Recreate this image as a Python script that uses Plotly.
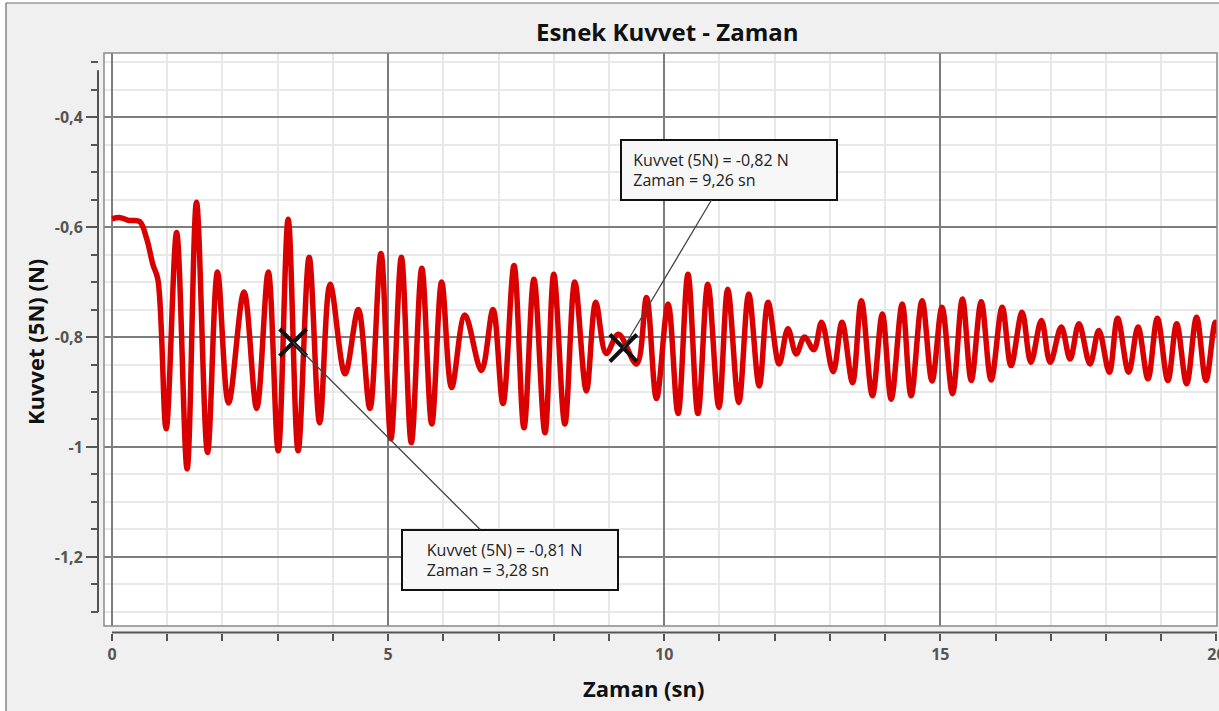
import plotly.graph_objects as go

time_s = [0.00, 0.15, 0.30, 0.50, 0.63, 0.74, 0.83,
          0.98, 1.17, 1.36, 1.53, 1.73, 1.91, 2.11, 2.39, 2.62, 2.83,
          3.01, 3.19, 3.37, 3.57, 3.76, 3.95, 4.22, 4.46, 4.67, 4.87,
          5.05, 5.24, 5.42, 5.61, 5.79, 5.97, 6.15, 6.39, 6.69, 6.90,
          7.08, 7.28, 7.46, 7.64, 7.84, 8.00, 8.20, 8.38, 8.59, 8.76,
          8.95, 9.17, 9.50, 9.68, 9.86, 10.07, 10.25, 10.43, 10.61, 10.79,
          10.99, 11.15, 11.35, 11.53, 11.72, 11.88, 12.08, 12.24, 12.39, 12.54,
          12.71, 12.85, 13.06, 13.22, 13.41, 13.57, 13.77, 13.95, 14.11, 14.31,
          14.47, 14.67, 14.85, 15.03, 15.22, 15.40, 15.56, 15.74, 15.92, 16.12,
          16.28, 16.48, 16.64, 16.83, 16.99, 17.19, 17.35, 17.51, 17.71, 17.87,
          18.06, 18.21, 18.41, 18.58, 18.76, 18.93, 19.12, 19.28, 19.46, 19.64,
          19.81, 19.98, 20.05]
force_N = [-0.585, -0.583, -0.588, -0.590, -0.622, -0.668, -0.695,
           -0.967, -0.610, -1.040, -0.555, -1.010, -0.682, -0.920, -0.718, -0.930, -0.682,
           -1.007, -0.586, -1.007, -0.655, -0.956, -0.704, -0.867, -0.750, -0.930, -0.648,
           -0.985, -0.655, -0.992, -0.675, -0.958, -0.700, -0.892, -0.760, -0.861, -0.750,
           -0.921, -0.670, -0.965, -0.695, -0.974, -0.686, -0.958, -0.700, -0.898, -0.737,
           -0.830, -0.795, -0.849, -0.728, -0.912, -0.740, -0.939, -0.686, -0.939, -0.704,
           -0.928, -0.713, -0.919, -0.722, -0.889, -0.737, -0.849, -0.785, -0.831, -0.800,
           -0.823, -0.773, -0.863, -0.773, -0.883, -0.734, -0.907, -0.758, -0.913, -0.740,
           -0.907, -0.734, -0.880, -0.746, -0.903, -0.731, -0.879, -0.736, -0.878, -0.746,
           -0.852, -0.755, -0.846, -0.770, -0.846, -0.782, -0.840, -0.776, -0.849, -0.788,
           -0.864, -0.766, -0.864, -0.782, -0.876, -0.766, -0.879, -0.776, -0.885, -0.764,
           -0.879, -0.773, -0.800]

cursor_t = [3.28, 9.26]
cursor_f = [-0.81, -0.82]

x_ticks = [0, 5, 10, 15, 20]
y_ticks = [-0.4, -0.6, -0.8, -1.0, -1.2]

W, H = 1219, 711
ML, MR, MT, MB = 90, 2, 53, 75
PW, PH = W - ML - MR, H - MT - MB


def px_x(p):  # pixel -> paper x
    return (p - ML) / PW


def px_y(p):  # pixel -> paper y
    return (H - MB - p) / PH


def fmt(v, nd=2):
    return f"{v:.{nd}f}".replace(".", ",")


fig = go.Figure()

fig.add_trace(go.Scatter(
    x=time_s, y=force_N, mode="lines",
    line=dict(color="#db0000", width=5.5, shape="spline", smoothing=1.0),
    hoverinfo="skip", showlegend=False))

fig.add_trace(go.Scatter(
    x=cursor_t, y=cursor_f, mode="markers",
    marker=dict(symbol="x-thin", size=27, line=dict(width=4, color="#111")),
    showlegend=False, hoverinfo="skip"))

ann_font = dict(family="Open Sans", size=16, color="#222")
nb = "\u00a0"
# box offsets (pixels) from the cursor point, and left padding in nbsp
boxes = [(217, 217, 5), (106, -178, 2)]
annotations = []
for (t, f), (ax, ay, pad) in zip(zip(cursor_t, cursor_f), boxes):
    annotations.append(dict(
        x=t, y=f, xref="x", yref="y", ax=ax, ay=ay,
        text=f"{nb*pad}Kuvvet (5N) = {fmt(f)} N<br>{nb*pad}Zaman = {fmt(t)} sn",
        showarrow=True, arrowhead=0, arrowwidth=1.3, arrowcolor="#444",
        standoff=0, align="left", width=208, height=52,
        bgcolor="#f7f7f7", bordercolor="#111", borderwidth=2, borderpad=3,
        font=ann_font))

annotations += [
    dict(text="<b>Esnek Kuvvet - Zaman</b>", x=px_x(667), y=px_y(31),
         xref="paper", yref="paper", xanchor="center", yanchor="middle",
         showarrow=False, font=dict(family="Open Sans", size=24, color="#111")),
    dict(text="<b>Zaman (sn)</b>", x=px_x(643), y=px_y(688),
         xref="paper", yref="paper", xanchor="center", yanchor="middle",
         showarrow=False, font=dict(family="Open Sans", size=22, color="#111")),
    dict(text="<b>Kuvvet (5N) (N)</b>", x=px_x(35), y=px_y(342),
         xref="paper", yref="paper", xanchor="center", yanchor="middle",
         showarrow=False, textangle=-90,
         font=dict(family="Open Sans", size=22, color="#111")),
]

shapes = [
    # white strips outside the grey window panel
    dict(type="rect", xref="paper", yref="paper", layer="below",
         x0=px_x(-20), y0=px_y(740), x1=px_x(6), y1=px_y(-20),
         fillcolor="white", line=dict(width=0)),
    dict(type="rect", xref="paper", yref="paper", layer="below",
         x0=px_x(-20), y0=px_y(3), x1=px_x(1240), y1=px_y(-20),
         fillcolor="white", line=dict(width=0)),
    # window frame (left and top edges)
    dict(type="line", xref="paper", yref="paper", layer="below",
         x0=px_x(6), y0=px_y(740), x1=px_x(6), y1=px_y(3),
         line=dict(color="#6a6a6a", width=1.2)),
    dict(type="line", xref="paper", yref="paper", layer="below",
         x0=px_x(6), y0=px_y(3), x1=px_x(1240), y1=px_y(3),
         line=dict(color="#6a6a6a", width=1.2)),
    # plot area border
    dict(type="rect", xref="paper", yref="paper", layer="above",
         x0=px_x(104), y0=px_y(626), x1=1, y1=1,
         line=dict(color="#8a8a8a", width=1.5)),
    # detached y axis line
    dict(type="line", xref="paper", yref="y", x0=px_x(98), x1=px_x(98),
         y0=-0.315, y1=-1.30, line=dict(color="#555", width=2)),
    # detached x axis line
    dict(type="line", xref="x", yref="paper", x0=0, x1=20.1,
         y0=px_y(632.5), y1=px_y(632.5), line=dict(color="#555", width=2)),
]

tick_font = dict(family="Open Sans", size=16, color="#555555", weight="bold")

fig.update_layout(
    width=W, height=H,
    margin=dict(l=ML, r=MR, t=MT, b=MB, autoexpand=False),
    paper_bgcolor="#f0f0f0", plot_bgcolor="white",
    separators=", ",
    showlegend=False,
    annotations=annotations, shapes=shapes,
    xaxis=dict(domain=[px_x(104), 1], range=[-0.145, 20.01],
               anchor="free", position=px_y(632.5), automargin=False,
               tickvals=x_ticks, ticktext=[str(v) for v in x_ticks],
               ticklabeloverflow="allow",
               ticks="outside", ticklen=7, tickwidth=2, tickcolor="#555",
               showgrid=True, gridcolor="#7d7d7d", gridwidth=2,
               minor=dict(dtick=1, tick0=0, ticks="outside", ticklen=7,
                          tickwidth=2, tickcolor="#555", showgrid=True,
                          gridcolor="#e8e8e8", gridwidth=1.5),
               zeroline=False, showline=False, tickfont=tick_font),
    yaxis=dict(domain=[px_y(626), 1], range=[-1.3255, -0.2836],
               anchor="free", position=px_x(98), automargin=False,
               tickvals=y_ticks,
               ticktext=["-1" if v == -1.0 else fmt(v, 1) for v in y_ticks],
               ticks="outside", ticklen=12, tickwidth=2, tickcolor="#555",
               showgrid=True, gridcolor="#7d7d7d", gridwidth=2,
               minor=dict(dtick=0.05, tick0=0, ticks="outside", ticklen=7,
                          tickwidth=2, tickcolor="#555", showgrid=True,
                          gridcolor="#e8e8e8", gridwidth=1.5),
               zeroline=False, showline=False, tickfont=tick_font),
)

fig.write_html("out.html", config={"displayModeBar": False},
               post_script="document.body.style.margin='0';document.body.style.overflow='hidden';")
